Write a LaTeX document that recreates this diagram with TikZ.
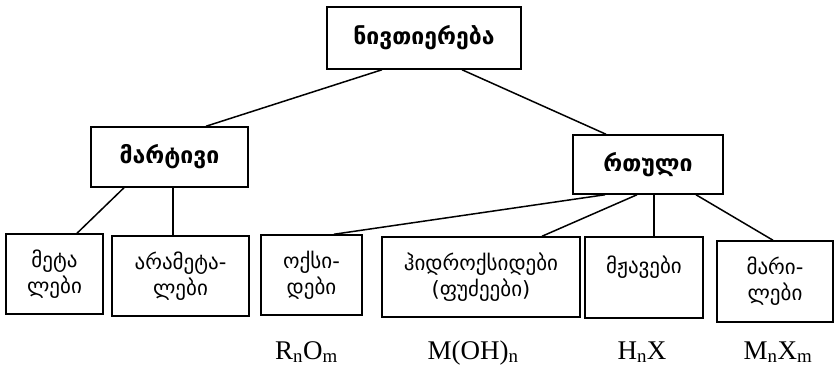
\documentclass[tikz,border=0pt]{standalone}
\usepackage{fontspec}
\newfontfamily\geo{DejaVu Sans}
\newfontfamily\tnr{Liberation Serif}

\begin{document}
\begin{tikzpicture}[x=1pt,y=-1pt,
    box/.style={draw,line width=1.5pt,align=center,inner sep=0pt,
      font=\geo\fontsize{21}{26}\selectfont},
    head/.style={box,font=\geo\bfseries\fontsize{23}{26}\selectfont},
    formula/.style={anchor=base,font=\tnr\fontsize{27}{30}\selectfont}]
  \useasboundingbox (0,0) rectangle (836,369);
  % top and second level
  \node[head,minimum width=194pt,minimum height=62pt] (sub) at (424,38) {ნივთიერება};
  \node[head,minimum width=157pt,minimum height=60pt] (simple) at (169.5,157) {მარტივი};
  \node[head,minimum width=150pt,minimum height=59pt] (complex) at (648,164.5) {რთული};
  % bottom row
  \node[box,minimum width=97pt,minimum height=80pt] (metals) at (54.5,274) {მეტა\\ლები};
  \node[box,minimum width=137pt,minimum height=80pt] (nonmetals) at (180.5,276) {არამეტა-\\ლები};
  \node[box,minimum width=101pt,minimum height=80pt] (oxides) at (311.5,275) {ოქსი-\\დები};
  \node[box,minimum width=198pt,minimum height=80pt] (hydroxides) at (481,277) {ჰიდროქსიდები\\(ფუძეები)};
  \node[box,minimum width=118pt,minimum height=81pt] (acids) at (644,277.5) {მჟავები\\\mbox{}};
  \node[box,minimum width=116pt,minimum height=81pt] (salts) at (775,281.5) {მარი-\\ლები};
  % connectors
  \foreach \a/\da/\b/\db in {sub/-42/simple/36.5,sub/38/complex/-42,
      simple/-45.5/metals/22.5,simple/3.5/nonmetals/-7.5,
      complex/-43/oxides/22.5,complex/-11/hydroxides/61,
      complex/6/acids/10,complex/48/salts/-2}
    \draw[line width=1.5pt] ([xshift=\da pt]\a.south) -- ([xshift=\db pt]\b.north);
  % formulas
  \node[formula] (foxides) at (306.5,359) {R\textsubscript{n}O\textsubscript{m}};
  \node[formula] (fhydroxides) at (473,359) {M(OH)\textsubscript{n}};
  \node[formula] (facids) at (642,359) {H\textsubscript{n}X};
  \node[formula] (fsalts) at (778,359) {M\textsubscript{n}X\textsubscript{m}};
\end{tikzpicture}
\end{document}
